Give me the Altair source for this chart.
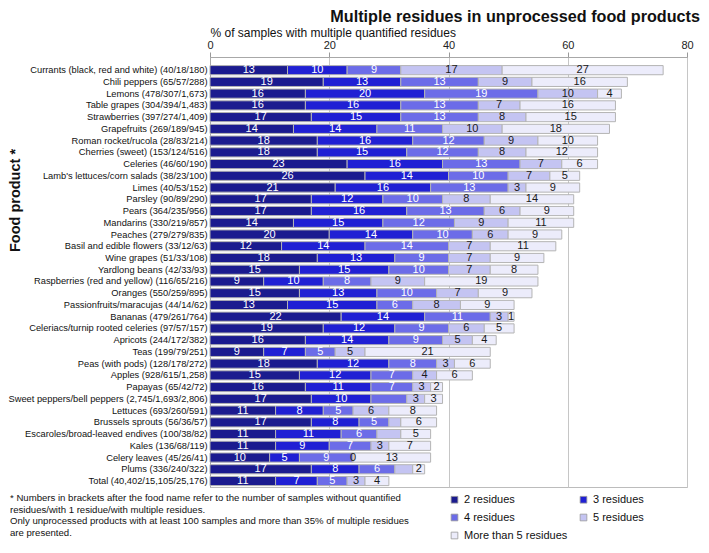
import altair as alt
import pandas as pd

foods = [
    "Currants (black, red and white) (40/18/180)",
    "Chili peppers (65/57/288)",
    "Lemons (478/307/1,673)",
    "Table grapes (304/394/1,483)",
    "Strawberries (397/274/1,409)",
    "Grapefruits (269/189/945)",
    "Roman rocket/rucola (28/83/214)",
    "Cherries (sweet) (153/124/516)",
    "Celeries (46/60/190)",
    "Lamb's lettuces/corn salads (38/23/100)",
    "Limes (40/53/152)",
    "Parsley (90/89/290)",
    "Pears (364/235/956)",
    "Mandarins (330/219/857)",
    "Peaches (279/279/835)",
    "Basil and edible flowers (33/12/63)",
    "Wine grapes (51/33/108)",
    "Yardlong beans (42/33/93)",
    "Raspberries (red and yellow) (116/65/216)",
    "Oranges (550/259/895)",
    "Passionfruits/maracujas (44/14/62)",
    "Bananas (479/261/764)",
    "Celeriacs/turnip rooted celeries (97/57/157)",
    "Apricots (244/172/382)",
    "Teas (199/79/251)",
    "Peas (with pods) (128/178/272)",
    "Apples (928/615/1,258)",
    "Papayas (65/42/72)",
    "Sweet peppers/bell peppers (2,745/1,693/2,806)",
    "Lettuces (693/260/591)",
    "Brussels sprouts (56/36/57)",
    "Escaroles/broad-leaved endives (100/38/82)",
    "Kales (136/68/119)",
    "Celery leaves (45/26/41)",
    "Plums (336/240/322)",
    "Total (40,402/15,105/25,176)",
]

res2 = [13, 19, 16, 16, 17, 14, 18, 18, 23, 26, 21, 17, 17, 14, 20, 12, 18, 15, 9, 15,
        13, 22, 19, 16, 9, 18, 15, 16, 17, 11, 17, 11, 11, 10, 17, 11]
res3 = [10, 13, 20, 16, 15, 14, 16, 15, 16, 14, 16, 12, 16, 15, 14, 14, 13, 15, 10, 13,
        15, 14, 12, 14, 7, 12, 12, 11, 10, 8, 8, 11, 9, 5, 8, 7]
res4 = [9, 13, 19, 13, 13, 11, 12, 12, 13, 10, 13, 10, 13, 12, 10, 14, 9, 10, 8, 10,
        6, 11, 9, 9, 5, 8, 7, 7, 6, 5, 5, 6, 7, 9, 6, 5]
res5 = [17, 9, 10, 7, 8, 10, 9, 8, 7, 7, 3, 8, 6, 9, 6, 7, 7, 7, 9, 7,
        8, 3, 6, 5, 5, 3, 4, 3, 3, 6, 2, 4, 3, 0, 3, 3]
res6 = [27, 16, 4, 16, 15, 18, 10, 12, 6, 5, 9, 14, 9, 11, 9, 11, 9, 8, 19, 9,
        9, 1, 5, 4, 21, 6, 6, 2, 3, 8, 6, 5, 7, 13, 2, 4]

categories = ["2 residues", "3 residues", "4 residues", "5 residues", "More than 5 residues"]
colors = ["#1b1b8f", "#2020d4", "#6c6ce8", "#c4c4f2", "#ececfb"]
text_colors = ["#ffffff", "#ffffff", "#ffffff", "#1a1a1a", "#1a1a1a"]

# labels not printed in the original
hidden = [(28, "4 residues"), (30, "5 residues"), (31, "5 residues"), (34, "5 residues")]

title_text = "Multiple residues in unprocessed food products"
x_title = "% of samples with multiple quantified residues"
y_title = "Food product *"
footnote = [
    "* Numbers in brackets after the food name refer to the number of samples without quantified",
    "residues/with 1 residue/with multiple residues.",
    "Only unprocessed products  with at least 100 samples and more than 35% of multiple residues",
    "are presented.",
]

FONT = "Liberation Sans"

rows = []
series = [res2, res3, res4, res5, res6]
for i, food in enumerate(foods):
    for k, cat in enumerate(categories):
        v = series[k][i]
        lab = "" if (i, cat) in hidden else str(v)
        rows.append({"food": food, "cat": cat, "order": k, "value": v,
                     "label": lab, "tcolor": text_colors[k]})
df = pd.DataFrame(rows)

yscale = alt.Scale(paddingInner=0.22, paddingOuter=0.425, align=0.86)

base = alt.Chart(df).transform_stack(
    stack="value", groupby=["food"], as_=["start", "end"],
    sort=[alt.SortField("order", order="ascending")]
).transform_calculate(mid="(datum.start + datum.end) / 2")

bars = base.mark_bar(stroke="#b4b4b4", strokeWidth=1).encode(
    y=alt.Y("food:N", sort=foods, scale=yscale,
            axis=alt.Axis(title=y_title, titleFontSize=14.5, titleFontWeight="bold",
                          titleAngle=270, titleX=-195, titleY=143, titleBaseline="middle",
                          titleAlign="center", titleColor="#111",
                          labelFontSize=9.3, labelColor="#111", ticks=False,
                          domainColor="#a8a8a8", labelPadding=3, labelLimit=320)),
    x=alt.X("start:Q", scale=alt.Scale(domain=[0, 80], nice=False),
            axis=alt.Axis(orient="top", values=[0, 20, 40, 60, 80], title=x_title,
                          titleFontSize=12, titleFontWeight="normal", titleColor="#111",
                          titleAnchor="start", titleAlign="left", titleX=0, titleY=-25,
                          titleBaseline="middle", labelFontSize=11, labelColor="#222",
                          labelFlush=False, labelPadding=2, tickSize=5, tickColor="#999",
                          domainColor="#a8a8a8", gridColor="#c6c6c6")),
    x2="end:Q",
    color=alt.Color("cat:N", scale=alt.Scale(domain=categories, range=colors),
                    legend=alt.Legend(title=None, orient="none", legendX=239, legendY=437,
                                      direction="horizontal", columns=2, columnPadding=10,
                                      rowPadding=6, symbolType="square", symbolSize=45,
                                      symbolStrokeColor="#999", symbolStrokeWidth=0.8,
                                      labelFontSize=11, labelColor="#111", labelOffset=4)),
    order=alt.Order("order:Q"),
)

labels = base.mark_text(fontSize=11, baseline="middle", align="center").encode(
    y=alt.Y("food:N", sort=foods, scale=yscale),
    x=alt.X("mid:Q"),
    text="label:N",
    color=alt.Color("tcolor:N", scale=None),
)

title_mark = alt.Chart(pd.DataFrame({"t": [title_text]})).mark_text(
    align="right", baseline="middle", fontSize=16.2, fontWeight="bold", color="#111"
).encode(x=alt.value(490), y=alt.value(-40), text="t:N")

foot_mark = alt.Chart(pd.DataFrame({"t": ["\n".join(footnote)]})).mark_text(
    align="left", baseline="top", fontSize=9.6, lineBreak="\n", lineHeight=11.5, color="#111"
).encode(x=alt.value(-200), y=alt.value(436), text="t:N")

chart = alt.layer(bars, labels, title_mark, foot_mark).properties(
    width=477, height=430,
    autosize=alt.AutoSizeParams(type="none"),
    padding={"left": 202, "top": 49, "right": 14, "bottom": 54},
).configure(font=FONT).configure_view(stroke="#bcbcbc")

chart.save("out.html", embed_options={"renderer": "svg", "actions": False})
